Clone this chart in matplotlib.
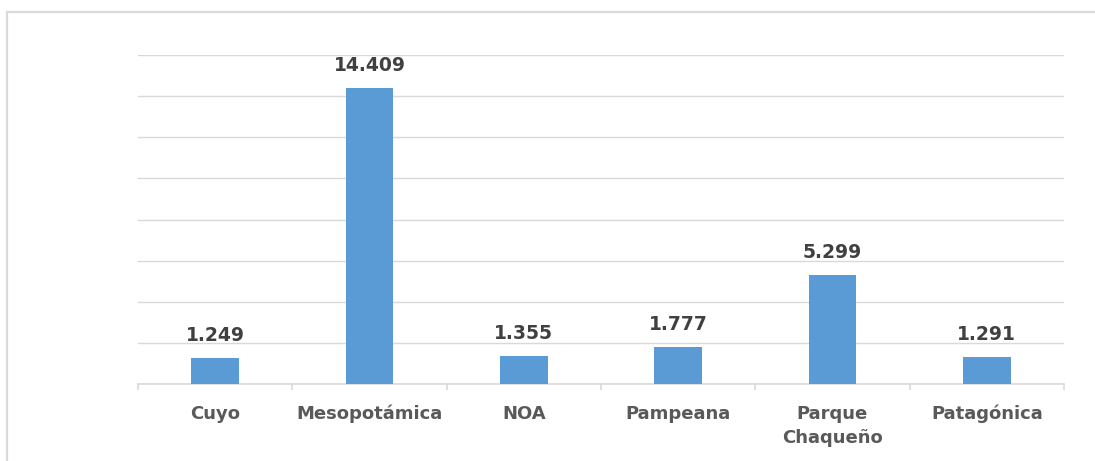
import matplotlib
matplotlib.use("Agg")
import matplotlib.pyplot as plt
from matplotlib.patches import Rectangle
import numpy as np

categories = ["Cuyo", "Mesopotámica", "NOA", "Pampeana", "Parque\nChaqueño", "Patagónica"]
values = [1249, 14409, 1355, 1777, 5299, 1291]
value_labels = ["1.249", "14.409", "1.355", "1.777", "5.299", "1.291"]

W, H = 1095, 461
fig = plt.figure(figsize=(W / 100, H / 100), dpi=100)
fig.patch.set_facecolor("white")

# outer chart frame
fig.patches.append(Rectangle((7 / W, -0.2), 1.2, 1 - 12 / H + 0.2, transform=fig.transFigure,
                             fill=False, edgecolor="#D9D9D9", linewidth=1.6, zorder=0))

ax = fig.add_axes([138 / W, 1 - 384 / H, (1064 - 138) / W, (384 - 55) / H])
x = np.arange(len(categories))
ax.bar(x, values, width=0.31, color="#5B9BD5", zorder=3)

ax.set_xlim(-0.5, len(categories) - 0.5)
ax.set_ylim(0, 16000)
ax.set_yticks(np.arange(0, 16001, 2000))
ax.yaxis.grid(True, color="#D9D9D9", linewidth=1.0, zorder=0)
ax.tick_params(axis="y", left=False, labelleft=False)

for s in ["top", "right", "left"]:
    ax.spines[s].set_visible(False)
ax.spines["bottom"].set_color("#D9D9D9")
ax.spines["bottom"].set_linewidth(1.2)

ax.set_xticks(x)
ax.set_xticklabels(categories, fontsize=13, fontweight="bold", color="#595959",
                   family="DejaVu Sans", linespacing=1.42)
ax.set_xticks(np.arange(-0.5, len(categories), 1.0), minor=True)
ax.tick_params(axis="x", which="major", length=0, pad=15)
ax.tick_params(axis="x", which="minor", length=4, color="#D9D9D9", width=1.2)
for lbl in ax.get_xticklabels():
    lbl.set_verticalalignment("top")

for xi, v, t in zip(x, values, value_labels):
    ax.annotate(t, (xi, v), xytext=(0, 9.5), textcoords="offset points",
                ha="center", va="bottom", fontsize=13.5, fontweight="bold",
                color="#404040", family="DejaVu Sans")

fig.savefig("out.png", dpi=100, facecolor="white")
